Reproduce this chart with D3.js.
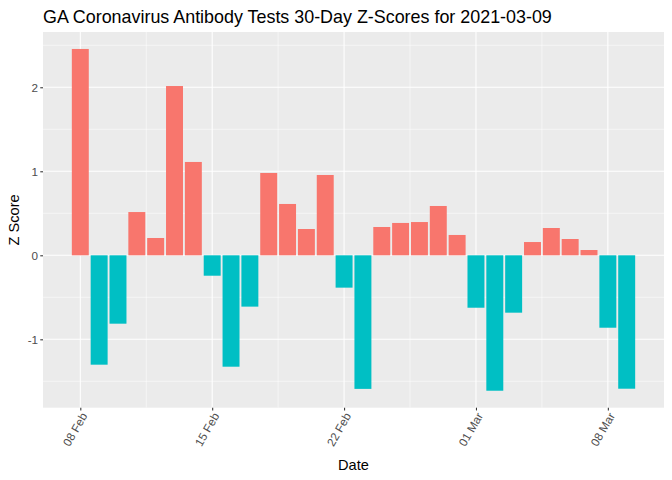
<!DOCTYPE html>
<html><head><meta charset="utf-8">
<script src="https://cdn.jsdelivr.net/npm/d3@7"></script>
<style>body{margin:0;background:#fff}svg{display:block}text{font-family:"Liberation Sans",Arial,sans-serif}</style>
</head><body><div id="chart"></div>
<script>
const dates = ["2021-02-08","2021-02-09","2021-02-10","2021-02-11","2021-02-12","2021-02-13","2021-02-14","2021-02-15","2021-02-16","2021-02-17","2021-02-18","2021-02-19","2021-02-20","2021-02-21","2021-02-22","2021-02-23","2021-02-24","2021-02-25","2021-02-26","2021-02-27","2021-02-28","2021-03-01","2021-03-02","2021-03-03","2021-03-04","2021-03-05","2021-03-06","2021-03-07","2021-03-08","2021-03-09"];
const zScores = [2.456,-1.302,-0.814,0.515,0.206,2.015,1.111,-0.243,-1.326,-0.611,0.98,0.611,0.313,0.956,-0.385,-1.59,0.337,0.385,0.396,0.587,0.242,-0.624,-1.612,-0.683,0.158,0.325,0.194,0.063,-0.862,-1.588];
const xTickDates = ["2021-02-08","2021-02-15","2021-02-22","2021-03-01","2021-03-08"];
const xTickLabels = ["08 Feb","15 Feb","22 Feb","01 Mar","08 Mar"];
const yTicks = [-1,0,1,2];
const yTickLabels = ["-1","0","1","2"];
const titleText = "GA Coronavirus Antibody Tests 30-Day Z-Scores for 2021-03-09";

const W=672,H=480;
const pl=43,pr=664,pt=32,pb=407.7;
const parse=d3.utcParse("%Y-%m-%d");
const DAY=86400000;
const data=dates.map((d,i)=>({date:parse(d),z:zScores[i]}));
const x=d3.scaleUtc().domain([new Date(+parse(dates[0])-1.98*DAY), new Date(+parse(dates[dates.length-1])+1.98*DAY)]).range([pl,pr]);
const y=d3.scaleLinear().domain([-1.814,2.658]).range([pb,pt]);
const svg=d3.select("#chart").append("svg").attr("width",W).attr("height",H);
svg.append("rect").attr("x",pl).attr("y",pt).attr("width",pr-pl).attr("height",pb-pt).attr("fill","#EBEBEB");
// minor gridlines
const xt=xTickDates.map(parse);
const xMinor=[];
for(let i=-1;i<xt.length;i++){const base=i<0?+xt[0]-7*DAY:+xt[i];const m=new Date(base+3.5*DAY);if(m>=x.domain()[0]&&m<=x.domain()[1])xMinor.push(m);}
const yMinor=[-1.5,-0.5,0.5,1.5,2.5];
svg.selectAll(".xmin").data(xMinor).enter().append("line").attr("x1",d=>x(d)).attr("x2",d=>x(d)).attr("y1",pt).attr("y2",pb).attr("stroke","#fff").attr("stroke-width",0.53);
svg.selectAll(".ymin").data(yMinor).enter().append("line").attr("y1",d=>y(d)).attr("y2",d=>y(d)).attr("x1",pl).attr("x2",pr).attr("stroke","#fff").attr("stroke-width",0.53);
svg.selectAll(".xmaj").data(xt).enter().append("line").attr("x1",d=>x(d)).attr("x2",d=>x(d)).attr("y1",pt).attr("y2",pb).attr("stroke","#fff").attr("stroke-width",1.07);
svg.selectAll(".ymaj").data(yTicks).enter().append("line").attr("y1",d=>y(d)).attr("y2",d=>y(d)).attr("x1",pl).attr("x2",pr).attr("stroke","#fff").attr("stroke-width",1.07);
// bars
const bw=(x(new Date(DAY))-x(new Date(0)))*0.9;
svg.selectAll(".bar").data(data).enter().append("rect")
 .attr("x",d=>x(d.date)-bw/2).attr("width",bw)
 .attr("y",d=>y(Math.max(0,d.z))).attr("height",d=>Math.abs(y(d.z)-y(0)))
 .attr("fill",d=>d.z>=0?"#F8766D":"#00BFC4");
// axes
const xAxis=d3.axisBottom(x).tickValues(xt).tickFormat((d,i)=>xTickLabels[i]).tickSize(2.74).tickPadding(2);
const gx=svg.append("g").attr("transform",`translate(0,${pb})`).call(xAxis);
gx.select(".domain").remove();
gx.selectAll(".tick line").attr("stroke","#333333").attr("stroke-width",1.07);
gx.selectAll(".tick text").attr("fill","#4D4D4D").style("font-size","11.7px")
 .attr("text-anchor","end").attr("dy",null).attr("y",0)
 .attr("transform","translate(7,8) rotate(-60)");
const yAxis=d3.axisLeft(y).tickValues(yTicks).tickFormat((d,i)=>yTickLabels[i]).tickSize(2.74).tickPadding(2.2);
const gy=svg.append("g").attr("transform",`translate(${pl},0)`).call(yAxis);
gy.select(".domain").remove();
gy.selectAll(".tick line").attr("stroke","#333333").attr("stroke-width",1.07);
gy.selectAll(".tick text").attr("fill","#4D4D4D").style("font-size","11.7px");
// labels
svg.append("text").attr("x",43).attr("y",23).text(titleText).style("font-size","17.9px").attr("fill","#000");
svg.append("text").attr("x",(pl+pr)/2).attr("y",470).attr("text-anchor","middle").text("Date").style("font-size","14.6px").attr("fill","#000");
svg.append("text").attr("transform",`translate(19,${(pt+pb)/2}) rotate(-90)`).attr("text-anchor","middle").text("Z Score").style("font-size","14.6px").attr("fill","#000");
</script></body></html>
